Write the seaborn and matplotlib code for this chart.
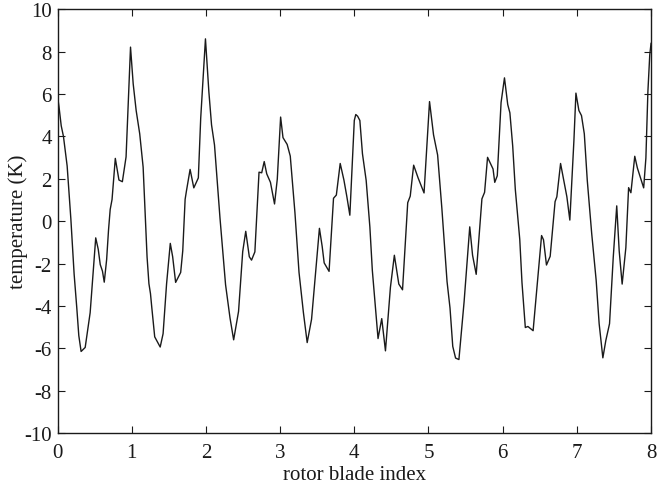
import matplotlib
matplotlib.use("Agg")
import matplotlib.pyplot as plt
import seaborn as sns
import pandas as pd

# rotor blade index (x) and temperature in K (y)
blade_index = [
    0.0, 0.02, 0.05, 0.08, 0.13, 0.18, 0.224, 0.26, 0.287, 0.318, 0.373, 0.44,
    0.486, 0.515, 0.549, 0.576, 0.606, 0.63, 0.662, 0.688, 0.71, 0.735, 0.779,
    0.828, 0.874, 0.924, 0.946, 0.984, 1.02, 1.06, 1.108, 1.154, 1.18, 1.207,
    1.232, 1.253, 1.27, 1.31, 1.384, 1.423, 1.47, 1.52, 1.552, 1.592, 1.66,
    1.688, 1.72, 1.738, 1.787, 1.837, 1.898, 1.93, 1.994, 2.04, 2.076, 2.116,
    2.19, 2.265, 2.325, 2.374, 2.44, 2.496, 2.537, 2.585, 2.615, 2.66, 2.716,
    2.752, 2.786, 2.82, 2.87, 2.925, 2.962, 3.007, 3.039, 3.095, 3.137, 3.20,
    3.255, 3.314, 3.365, 3.424, 3.53, 3.567, 3.594, 3.66, 3.72, 3.758, 3.81,
    3.86, 3.90, 3.94, 4.0, 4.02, 4.045, 4.075, 4.11, 4.16, 4.21, 4.243, 4.28,
    4.32, 4.37, 4.42, 4.487, 4.54, 4.6, 4.65, 4.72, 4.754, 4.80, 4.86, 4.905,
    4.94, 5.014, 5.068, 5.123, 5.18, 5.25, 5.29, 5.327, 5.365, 5.41, 5.48,
    5.556, 5.594, 5.643, 5.72, 5.756, 5.796, 5.848, 5.87, 5.893, 5.927, 5.978,
    6.024, 6.068, 6.097, 6.135, 6.17, 6.23, 6.26, 6.305, 6.34, 6.41, 6.463,
    6.524, 6.55, 6.59, 6.64, 6.706, 6.73, 6.78, 6.823, 6.865, 6.905, 6.96,
    6.987, 7.027, 7.062, 7.10, 7.14, 7.2, 7.26, 7.3, 7.35, 7.39, 7.44, 7.49,
    7.537, 7.57, 7.61, 7.66, 7.697, 7.728, 7.78, 7.815, 7.857, 7.9, 7.93,
    7.957, 7.982, 8.0,
]
temperature = [
    5.9, 5.4, 4.5, 4.0, 2.6, 0.1, -2.5, -4.1, -5.4, -6.15, -5.96, -4.32,
    -2.12, -0.79, -1.33, -2.05, -2.36, -2.88, -1.82, -0.4, 0.55, 1.02, 2.96,
    1.94, 1.86, 3.03, 4.91, 8.21, 6.48, 5.22, 4.12, 2.55, 0.51, -1.69,
    -2.95, -3.42, -4.05, -5.46, -5.94, -5.31, -2.96, -1.05, -1.68, -2.89, -2.42,
    -1.40, 1.03, 1.43, 2.44, 1.57, 2.04, 4.86, 8.6, 6.1, 4.54, 3.59,
    0.14, -3.0, -4.57, -5.6, -4.26, -1.44, -0.48, -1.68, -1.84, -1.45, 2.31,
    2.28, 2.81, 2.23, 1.83, 0.81, 1.98, 4.91, 3.94, 3.62, 3.07, 0.40,
    -2.42, -4.31, -5.73, -4.63, -0.34, -1.19, -1.97, -2.37, 1.08, 1.23, 2.72,
    1.94, 1.15, 0.28, 4.75, 5.03, 4.95, 4.75, 3.18, 1.92, -0.28, -2.32, -3.89,
    -5.54, -4.60, -6.12, -3.12, -1.61, -2.97, -3.24, 0.87, 1.18, 2.64, 2.04, 1.64,
    1.33, 5.64, 4.07, 3.12, 0.61, -2.85, -4.1, -5.91, -6.46, -6.53, -3.8,
    -0.27, -1.61, -2.51, 1.05, 1.36, 3.01, 2.62, 2.46, 1.83, 2.14, 5.59,
    6.76, 5.5, 5.11, 3.54, 1.5, -0.86, -2.9, -5.02, -4.97, -5.17, -3.07,
    -0.68, -0.88, -2.07, -1.66, 0.92, 1.15, 2.72, 1.93, 1.15, 0.05, 3.81,
    6.04, 5.22, 4.98, 4.12, 1.92, -0.6, -2.8, -4.84, -6.45, -5.63, -4.84, -1.71,
    0.72, -1.4, -2.97, -1.25, 1.58, 1.34, 3.06, 2.51, 2.04, 1.57, 2.98,
    6.11, 7.84, 8.4,
]

x_ticks = [0, 1, 2, 3, 4, 5, 6, 7, 8]
y_ticks = [-10, -8, -6, -4, -2, 0, 2, 4, 6, 8, 10]
x_label = "rotor blade index"
y_label = "temperature (K)"

sns.set_theme(style="ticks")
plt.rcParams["font.family"] = ["Liberation Serif", "DejaVu Serif"]
plt.rcParams["xtick.direction"] = "in"
plt.rcParams["ytick.direction"] = "in"

df = pd.DataFrame({"x": blade_index, "y": temperature})

fig = plt.figure(figsize=(6.61, 4.85), dpi=100)
ax = fig.add_axes([0.087, 0.105, 0.898, 0.874])
sns.lineplot(data=df, x="x", y="y", ax=ax, color="#1a1a1a", linewidth=1.0,
             estimator=None, sort=False)

ax.set_xlim(0, 8)
ax.set_ylim(-10, 10)
ax.set_xticks(x_ticks)
ax.set_yticks(y_ticks)
ax.set_xticklabels([str(t) for t in x_ticks])
ax.set_yticklabels([str(t) for t in y_ticks])
ax.tick_params(axis="both", which="both", direction="in", length=5, width=0.8,
               top=True, right=True, labelsize=15, colors="#1a1a1a")
ax.tick_params(axis="x", pad=7)
ax.tick_params(axis="y", pad=4)
ax.set_xlabel(x_label, fontsize=15, color="#1a1a1a", labelpad=2)
ax.set_ylabel(y_label, fontsize=15, color="#1a1a1a", labelpad=-3)
for s in ax.spines.values():
    s.set_visible(True)
    s.set_linewidth(1.0)
    s.set_color("#1a1a1a")

fig.savefig("out.png", dpi=100, facecolor="white")
